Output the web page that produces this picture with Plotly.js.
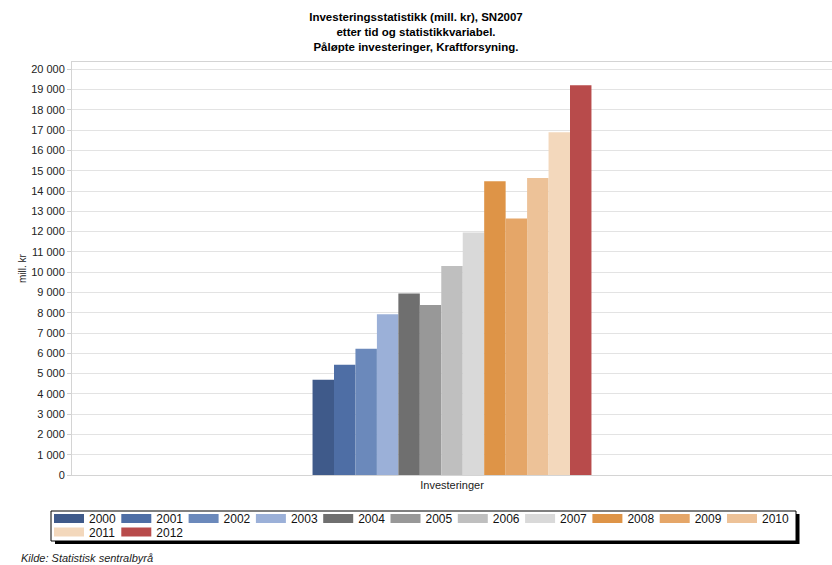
<!DOCTYPE html>
<html>
<head>
<meta charset="utf-8">
<script src="https://cdn.plot.ly/plotly-3.0.1.min.js"></script>
<style>html,body{margin:0;padding:0;background:#fff;}#chart{width:832px;height:565px;}</style>
</head>
<body>
<div id="chart"></div>
<script>
var category = ["Investeringer"];
var years = ["2000","2001","2002","2003","2004","2005","2006","2007","2008","2009","2010","2011","2012"];
var values = [4700, 5440, 6230, 7930, 8950, 8375, 10300, 11950, 14480, 12650, 14640, 16900, 19210];
var colors = ["#3f5a8a","#4e6ea5","#6b89bb","#9bb0d8","#6f6f6f","#989898","#bfbfbf","#d9d9d9","#de9447","#e5a668","#edc298","#f3d8bc","#b84b4b"];
var titleText = "Investeringsstatistikk (mill. kr), SN2007<br>etter tid og statistikkvariabel.<br>Påløpte investeringer, Kraftforsyning.";
var yTitle = "mill. kr";
var sourceText = "Kilde: Statistisk sentralbyrå";

var W = 832, H = 565, ML = 72, MR = 0, MT = 62, MB = 90;
var PW = W - ML - MR, PH = H - MT - MB;
function px(x){ return (x - ML) / PW; }
function py(y){ return (H - MB - y) / PH; }

var FONT = "Liberation Sans, Arial, sans-serif";

// Bars (data marks)
var traces = years.map(function(yr, i){
  return {
    type: "bar",
    name: yr,
    x: category,
    y: [values[i]],
    marker: {color: colors[i], line: {width: 0}},
    showlegend: false,
    legendgroup: yr,
    hoverinfo: "name+y"
  };
});
// Legend entries drawn as wide swatches (no marks on the plot)
years.forEach(function(yr, i){
  traces.push({
    type: "scatter",
    mode: "lines",
    name: yr,
    x: category,
    y: [null],
    line: {color: colors[i], width: 9},
    legendgroup: yr,
    legend: i < 11 ? "legend" : "legend2",
    hoverinfo: "skip"
  });
});

var legendCommon = {
  orientation: "h",
  bgcolor: "rgba(0,0,0,0)",
  borderwidth: 0,
  font: {family: FONT, size: 12, color: "#111"},
  entrywidth: 22.3,
  entrywidthmode: "pixels",
  xanchor: "left",
  yanchor: "top",
  traceorder: "normal",
  itemclick: false,
  itemdoubleclick: false
};

var layout = {
  width: W, height: H,
  margin: {l: ML, r: MR, t: MT, b: MB, pad: 0},
  paper_bgcolor: "#fff",
  plot_bgcolor: "#fff",
  separators: ", ",
  font: {family: FONT, size: 11, color: "#222"},
  title: {
    text: "<b>" + titleText.split("<br>").join("</b><br><b>") + "</b>",
    font: {family: FONT, size: 11.5, color: "#000"},
    x: 0.5, xref: "container", xanchor: "center",
    y: 1 - 21/H, yref: "container", yanchor: "top"
  },
  barmode: "group",
  bargap: 0.633,
  bargroupgap: 0,
  xaxis: {
    type: "category",
    showline: true, mirror: true, linecolor: "#d4d4d4", linewidth: 1,
    ticks: "", showgrid: false,
    tickfont: {family: FONT, size: 11, color: "#222"},
    fixedrange: true
  },
  yaxis: {
    range: [0, 20360],
    dtick: 1000, tick0: 0,
    tickformat: ",d",
    showgrid: true, gridcolor: "#e3e3e3", gridwidth: 1,
    zeroline: false,
    showline: true, linecolor: "#d4d4d4", linewidth: 1,
    ticks: "outside", ticklen: 4, tickcolor: "#cfcfcf",
    tickfont: {family: FONT, size: 11, color: "#222"},
    title: {text: yTitle, font: {family: FONT, size: 10, color: "#222"}, standoff: 2},
    fixedrange: true
  },
  legend: Object.assign({}, legendCommon, {x: px(49), y: py(504)}),
  legend2: Object.assign({}, legendCommon, {x: px(49), y: py(517.5)}),
  shapes: [
    {type: "rect", xref: "paper", yref: "paper", x0: px(55), x1: px(799.5), y0: py(544), y1: py(514),
     fillcolor: "#000", line: {width: 0}, layer: "above"},
    {type: "rect", xref: "paper", yref: "paper", x0: px(51), x1: px(796), y0: py(541), y1: py(511),
     fillcolor: "#fff", line: {color: "#000", width: 1}, layer: "above"}
  ],
  annotations: [
    {text: "<i>" + sourceText + "</i>", xref: "paper", yref: "paper", x: px(19), y: py(558),
     xanchor: "left", yanchor: "middle", showarrow: false,
     font: {family: FONT, size: 11, color: "#222"}}
  ]
};

Plotly.newPlot("chart", traces, layout, {displayModeBar: false, staticPlot: false});
</script>
</body>
</html>
